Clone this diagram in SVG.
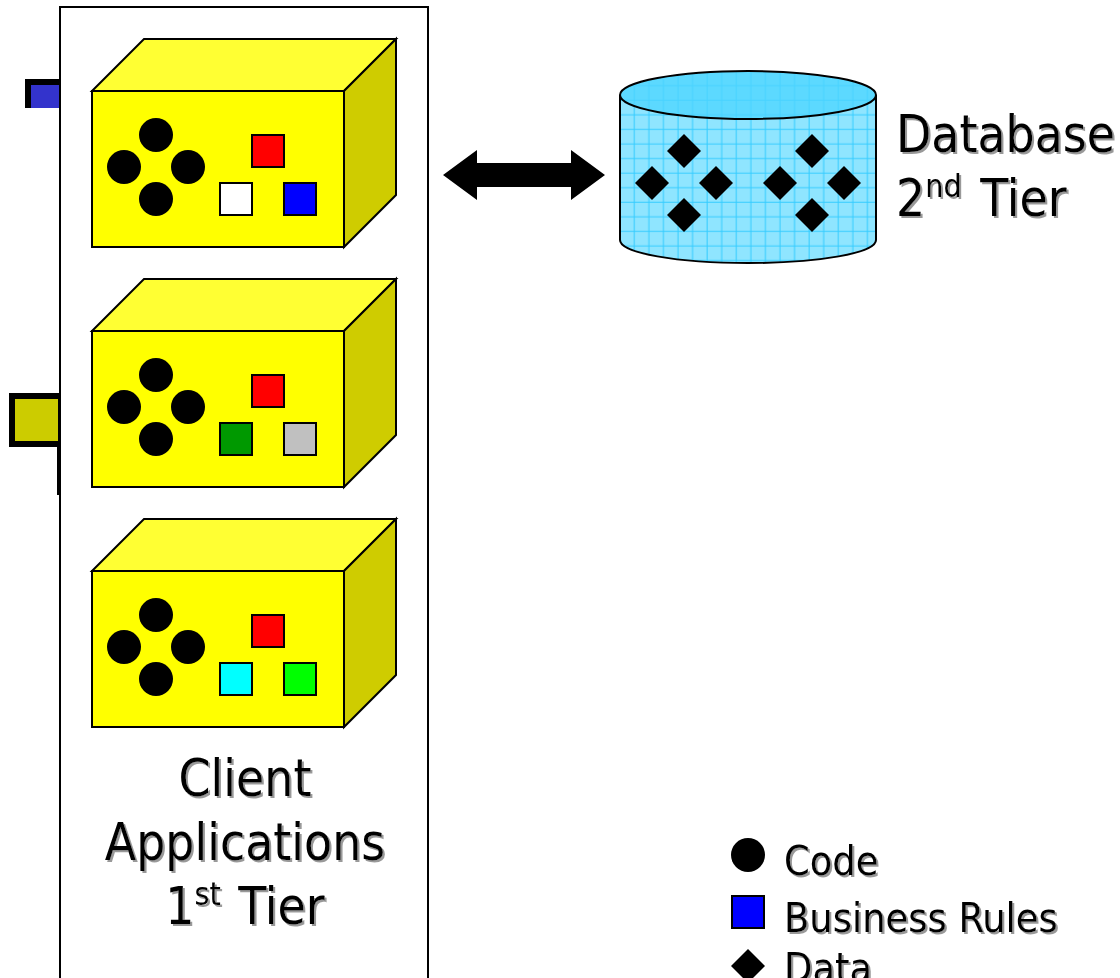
<svg xmlns="http://www.w3.org/2000/svg" width="1120" height="978" viewBox="0 0 1120 978">
<style>
.o{stroke:#000;stroke-width:2;stroke-linejoin:miter}
.t{font-family:"DejaVu Sans","Liberation Sans",sans-serif;font-stretch:condensed;fill:#000;filter:url(#sh)}
.b{font-size:51px}.m{font-size:41px}
.s{font-size:32px}
</style>
<defs>
<filter id="sh" x="-5%" y="-10%" width="110%" height="125%"><feDropShadow dx="2" dy="2" stdDeviation="0.4" flood-color="#999"/></filter>
<pattern id="grid" patternUnits="userSpaceOnUse" x="629.3" y="124.3" width="14.57" height="14.57">
<path d="M5 0V14.57M0 5H14.57" stroke="#33ccff" stroke-width="1" fill="none"/>
</pattern>
<g id="dots">
<circle cx="156" cy="135" r="17"/><circle cx="124" cy="167" r="17"/><circle cx="188" cy="167" r="17"/><circle cx="156" cy="199" r="17"/>
</g>
<g id="shell">
<path class="o" d="M92 91L144 39H396L344 91Z" fill="#ffff33"/>
<path class="o" d="M344 91L396 39V195L344 247Z" fill="#cfcc00"/>
<rect class="o" x="92" y="91" width="252" height="156" fill="#ffff00"/>
<use href="#dots"/>
<rect class="o" x="252" y="135" width="32" height="32" fill="#ff0000"/>
</g>
<path id="dia" d="M0-17L17 0L0 17L-17 0Z"/>
</defs>
<rect width="1120" height="978" fill="#fff"/>
<g id="fragment-blue">
<rect x="25" y="79" width="35" height="29" fill="#000"/>
<rect x="31" y="85" width="29" height="23" fill="#3333cc"/>
</g>
<g id="fragment-yellow">
<rect x="9" y="393" width="51" height="54" fill="#000"/>
<rect x="15" y="399" width="43" height="42" fill="#cccc00"/>
<rect x="57" y="447" width="3" height="48" fill="#000"/>
</g>
<g id="tier-panel">
<rect x="60" y="7" width="368" height="990" fill="#fff" stroke="#000" stroke-width="2"/>
</g>
<g id="client-1">
<use href="#shell"/>
<rect class="o" x="220" y="183" width="32" height="32" fill="#ffffff"/>
<rect class="o" x="284" y="183" width="32" height="32" fill="#0000ff"/>
</g>
<g id="client-2" transform="translate(0 240)">
<use href="#shell"/>
<rect class="o" x="220" y="183" width="32" height="32" fill="#009900"/>
<rect class="o" x="284" y="183" width="32" height="32" fill="#c0c0c0"/>
</g>
<g id="client-3" transform="translate(0 480)">
<use href="#shell"/>
<rect class="o" x="220" y="183" width="32" height="32" fill="#00ffff"/>
<rect class="o" x="284" y="183" width="32" height="32" fill="#00ff00"/>
</g>
<g id="client-label">
<text class="t b" x="245" y="796" text-anchor="middle">Client</text>
<text class="t b" x="245" y="860" text-anchor="middle">Applications</text>
<text class="t b" x="245" y="924" text-anchor="middle">1<tspan class="s" dy="-19">st</tspan><tspan dy="19" dx="3"> Tier</tspan></text>
</g>
<g id="connectors">
<path d="M443 175L477 150V163H571V150L605 175L571 200V187H477V200Z" fill="#000"/>
</g>
<g id="database">
<path d="M620 95V240C620 253 677 263 748 263C819 263 876 253 876 240V95Z" fill="#8fe5ff"/>
<path d="M620 95V240C620 253 677 263 748 263C819 263 876 253 876 240V95Z" fill="url(#grid)"/>
<ellipse cx="748" cy="95" rx="128" ry="24" fill="#5cd9ff"/>
<ellipse cx="748" cy="95" rx="128" ry="24" fill="url(#grid)" opacity="0.5"/>
<path d="M620 95V240C620 253 677 263 748 263C819 263 876 253 876 240V95" fill="none" stroke="#000" stroke-width="2"/>
<ellipse cx="748" cy="95" rx="128" ry="24" fill="none" stroke="#000" stroke-width="2"/>
<use href="#dia" x="684" y="151"/><use href="#dia" x="652" y="183"/><use href="#dia" x="716" y="183"/><use href="#dia" x="684" y="215"/>
<use href="#dia" x="812" y="151"/><use href="#dia" x="780" y="183"/><use href="#dia" x="844" y="183"/><use href="#dia" x="812" y="215"/>
</g>
<g id="database-label">
<text class="t b" x="896" y="152">Database</text>
<text class="t b" x="896" y="216">2<tspan class="s" dy="-19">nd</tspan><tspan dy="19" dx="4"> Tier</tspan></text>
</g>
<g id="legend">
<circle cx="748" cy="855" r="17"/>
<rect class="o" x="732" y="896" width="32" height="32" fill="#0000ff"/>
<use href="#dia" x="748" y="966"/>
<text class="t m" x="784" y="875">Code</text>
<text class="t m" x="784" y="932">Business Rules</text>
<text class="t m" x="784" y="982">Data</text>
</g>
</svg>
